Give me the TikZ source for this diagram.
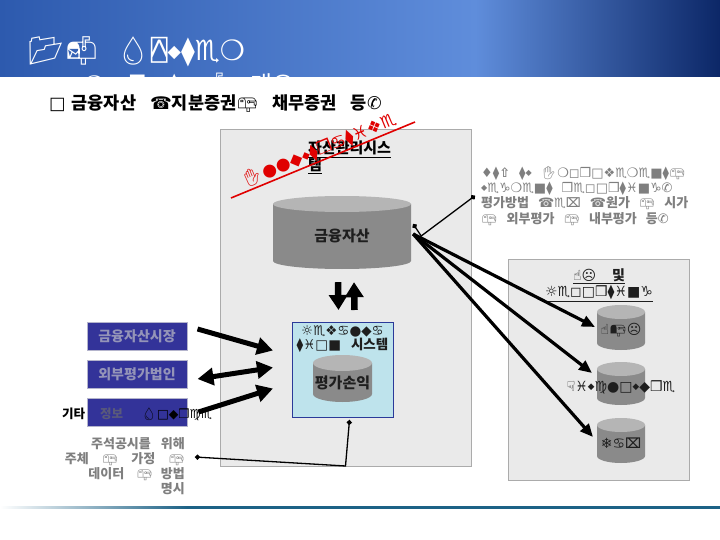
\documentclass[tikz,border=0pt]{standalone}
\usepackage{fontspec}
\usepackage{graphicx}
\setmainfont{Noto Sans CJK KR}
\newfontfamily\wgfont{DejaVu Sans}
\newfontfamily\aplfont{DejaVu Sans Mono}
\newfontfamily\emfont{Noto Emoji}
\newcommand\wg[1]{{\wgfont #1}}
\newcommand\emj[1]{{\emfont #1}}
\newcommand\sd{{\wgfont\raisebox{0.12em}{\scalebox{0.62}{◆}}}}
\usetikzlibrary{arrows.meta,calc}
\definecolor{navy}{HTML}{333399}
\definecolor{navyrim}{HTML}{B4B4CC}
\definecolor{boxtext}{HTML}{9494B8}
\definecolor{srcgray}{HTML}{5A5A7A}
\definecolor{panelfill}{HTML}{EAEAEA}
\definecolor{panelline}{HTML}{ABABAB}
\definecolor{vsfill}{HTML}{BEE3EC}
\definecolor{vsline}{HTML}{2B3A99}
\definecolor{notegray}{HTML}{7F7F7F}
\definecolor{stamp}{HTML}{E00000}
\definecolor{labelink}{HTML}{1E1E1E}
\definecolor{hdrA}{HTML}{2D5AAE}
\definecolor{hdrB}{HTML}{5F8DDB}
\definecolor{hdrC}{HTML}{0C2767}
\definecolor{cylbody}{HTML}{8A8A8A}
\definecolor{cyltop}{HTML}{B5B5B5}
\definecolor{ruleteal}{HTML}{1D6286}
\pgfdeclarehorizontalshading{hdrshade}{100bp}{color(0bp)=(hdrA); color(25bp)=(hdrA); color(58bp)=(hdrB); color(75bp)=(hdrC); color(100bp)=(hdrC)}
\pgfdeclarehorizontalshading{ruleshade}{100bp}{color(0bp)=(white); color(25bp)=(white); color(38bp)=(ruleteal); color(75bp)=(ruleteal); color(100bp)=(ruleteal)}
\tikzset{
  panel/.style={draw=panelline, fill=panelfill, line width=1pt, inner sep=0pt},
  navybox/.style={draw=navyrim, fill=navy, line width=1pt, minimum width=100pt, minimum height=28pt, inner sep=0pt, text=boxtext, font=\bfseries\fontsize{14}{14}\selectfont},
  fatarrow/.style={line width=5pt, -{Triangle[length=16pt,width=17pt]}},
  fatdouble/.style={line width=5pt, {Triangle[length=16pt,width=17pt]}-{Triangle[length=16pt,width=17pt]}},
  vertarrow/.style={line width=6.5pt, -{Triangle[length=15pt,width=18pt]}},
  linkarrow/.style={line width=3.2pt, -{Triangle[length=13pt,width=11pt]}},
  dotconn/.style={line width=1.3pt, {Circle[length=5pt]}-{Circle[length=5pt]}},
  cyllabel/.style={inner sep=0pt, text=labelink, font=\bfseries\fontsize{15}{15}\selectfont},
  smalllabel/.style={inner sep=0pt, text=labelink, font=\bfseries\fontsize{14}{14}\selectfont},
  pics/cyl/.style n args={3}{code={
    \fill[cylbody] (-#1,0) -- (-#1,#2) arc[start angle=180,end angle=0,x radius=#1,y radius=#3] -- (#1,0) -- cycle;
    \fill[cyltop] (0,0) ellipse[x radius=#1,y radius=#3];
  }},
}
\begin{document}
\begin{tikzpicture}[x=1pt,y=-1pt]
\useasboundingbox (0,0) rectangle (720,540);
\fill[white] (0,0) rectangle (720,540);
% header
\shade[shading=hdrshade] (0,0) rectangle (720,77);
\node[anchor=west, inner sep=0pt, text=white, font=\wgfont\fontsize{28}{28}\selectfont] (title1) at (28,52) {\emj{📂📬}\hspace{16pt}\emj{💧}{\aplfont ⍓}\sd⧫♏❍};
\begin{scope}
\clip (0,0) rectangle (720,77);
\node[anchor=north west, inner sep=0pt, text=white, font=\wgfont\fontsize{24}{24}\selectfont] (title2) at (62,73) {♒❍■◘♒⧫\hspace{20pt}\emj{📬}\hspace{20pt}{\rmfamily 개요}};
\end{scope}
\shade[shading=ruleshade] (0,506) rectangle (720,508);
% heading
\node[anchor=west, inner sep=0pt, font=\bfseries\fontsize{17.5}{17.5}\selectfont] (head) at (49,104) {\wg{□}\hspace{6pt}금융자산\hspace{14pt}\wg{☎}지분증권\emj{📪}\hspace{14pt}채무증권\hspace{14pt}등\wg{✆}};
% panels
\node[panel, minimum width=251pt, minimum height=337pt, anchor=north west] (sysp) at (220,129) {};
\node[panel, minimum width=181pt, minimum height=221pt, anchor=north west] (repp) at (508,259) {};
% system title
\node[anchor=north west, align=left, inner sep=0pt, font=\bfseries\fontsize{15}{16}\selectfont] (systitle) at (308,141) {\underline{자산관리시스}\\\underline{템}};
% stamp
\draw[stamp, line width=1.6pt] (231,198) -- (415,122);
\node[rotate=22.4, anchor=south, inner sep=1pt, text=stamp, font=\wgfont\fontsize{17}{17}\selectfont] (illus) at ($(231,198)!0.5!(415,122)$) {\emj{✋}●●◆\sd⧫❒♋⧫♓❖♏};
% main cylinder
\pic at (342,204) {cyl={69}{57}{8}};
\node[cyllabel, minimum width=138pt, minimum height=57pt] (fa) at (342,236) {금융자산};
% valuation system box
\node[draw=vsline, fill=vsfill, line width=1pt, minimum width=101pt, minimum height=95pt, anchor=north west, inner sep=0pt] (vs) at (292,322) {};
\node[smalllabel, align=center, font=\bfseries\fontsize{13.5}{14}\selectfont] (vstitle) at (342.5,339) {\wg{☼♏❖♋●◆♋}\\\wg{⧫♓□■}\hspace{10pt}시스템};
\pic at (342.5,363) {cyl={29.5}{31}{8}};
\node[cyllabel, minimum width=59pt, minimum height=31pt] (vp) at (342.5,383) {평가손익};
% vertical arrows
\draw[vertarrow] ($(fa.south)+(-4,17.5)$) -- ($(vs.north)+(-4.5,-12)$);
\draw[vertarrow] ($(vs.north)+(11.5,-12)$) -- ($(fa.south)+(12,17.5)$);
% left boxes
\node[navybox] (m1) at (137,336) {금융자산시장};
\node[navybox] (m2) at (137,374.5) {외부평가법인};
\node[navybox] (m3) at (137,412.5) {};
\node[anchor=west, inner sep=0pt, font=\bfseries\fontsize{12.5}{12.5}\selectfont] (src) at (62,414) {기타\hspace{15pt}{\color{srcgray}정보}\hspace{18pt}\emj{💧}\wg{□◆❒♍♏}};
\draw[fatarrow] ($(m1.east)+(10,-7)$) -- ($(vs.west)+(-19,-19.5)$);
\draw[fatdouble] ($(m2.east)+(10,4.5)$) -- ($(vs.west)+(-19,-2.5)$);
\draw[fatarrow] ($(m3.east)+(11,-0.5)$) -- ($(vs.west)+(-19,18.5)$);
% note
\node[anchor=north east, align=right, inner sep=0pt, text=notegray, font=\bfseries\fontsize{13}{15}\selectfont] (note) at (185,437) {주석공시를\hspace{10pt}위해\\주체\hspace{13pt}\emj{📪}\hspace{13pt}가정\hspace{13pt}\emj{📪}\\데이터\hspace{12pt}\emj{📪}\hspace{8pt}방법\\명시};
\coordinate (ndot) at ($(note.north east)+(10,20)$);
\draw[dotconn] ($(vs.south)+(6.5,2)$) -- ($(vs.south)+(2.5,48)$) -- (ndot);
% right text
\node[anchor=north west, align=left, inner sep=0pt, text=notegray, font=\bfseries\fontsize{13}{15.3}\selectfont] (rtext) at (481,166) {\wg{♦⧫⇧}\hspace{9pt}\wg{⧫\sd}\hspace{9pt}\emj{✋}\wg{❍◻❒□❖♏❍♏■⧫}\emj{📪}\\\wg{\sd♏♑❍♏■⧫}\hspace{9pt}\wg{❒♏◻□❒⧫♓■♑✆}\\평가방법\hspace{9pt}\wg{☎♏⌧}\hspace{9pt}\wg{☎}원가\hspace{9pt}\emj{📪}\hspace{9pt}시가\\\emj{📪}\hspace{9pt}외부평가\hspace{9pt}\emj{📪}\hspace{9pt}내부평가\hspace{9pt}등\wg{✆}};
\coordinate (rdot) at ($(rtext.west)+(-6,0)$);
\draw[dotconn] ($(fa.east)+(2,-12)$) -- ($(fa.east)+(10,0)$ |- rdot) -- (rdot);
% reporting panel
\node[smalllabel, align=center, font=\bfseries\fontsize{14}{14.5}\selectfont] (reptitle) at (599,285) {\underline{\wg{☝☹}\hspace{16pt}및}\\\underline{\wg{☼♏◻□❒⧫♓■♑}}};
\pic at (621,312) {cyl={24}{31}{7}};
\pic at (621,369) {cyl={24}{29}{7}};
\pic at (621,425) {cyl={24}{31}{7}};
\node[smalllabel] (c1) at (621,330) {\wg{☝}\emj{📭}\wg{☹}};
\node[smalllabel] (c2) at (621,387) {\wg{☟♓\sd♍●□\sd◆❒♏}};
\node[smalllabel] (c3) at (621,443) {\wg{❄♋⌧}};
\draw[linkarrow] ($(fa.east)+(2,-2)$) -- ($(c1.center)+(-26,-3)$);
\draw[linkarrow] ($(fa.east)+(2,-2)$) -- ($(c2.center)+(-29,-14)$);
\draw[linkarrow] ($(fa.east)+(2,-2)$) -- ($(c3.center)+(-28,-6)$);
\end{tikzpicture}
\end{document}
